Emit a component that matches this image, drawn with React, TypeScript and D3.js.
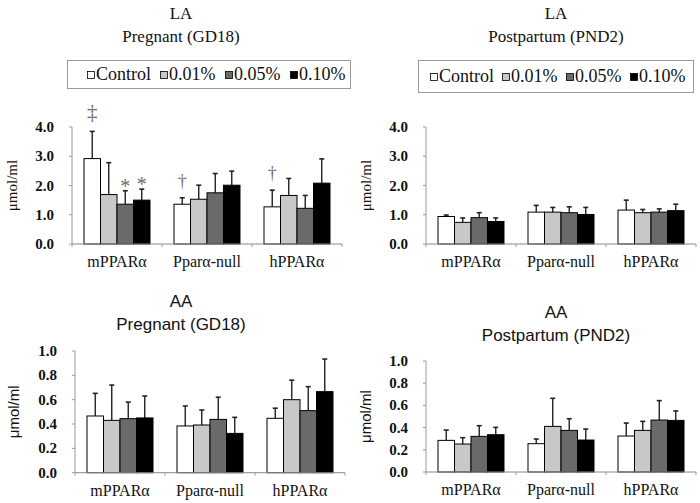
import React from "react";
import * as d3 from "d3";

// ---------- data ----------
const categories = ["mPPARα", "Pparα-null", "hPPARα"];
const groups = ["Control", "0.01%", "0.05%", "0.10%"];
const yTicksLA = [0, 1, 2, 3, 4];
const yTicksAA = [0, 0.2, 0.4, 0.6, 0.8, 1.0];

// LA, Pregnant (GD18): mean per category x group
const laPregnantMean = [
  [2.92, 1.69, 1.36, 1.5],
  [1.36, 1.53, 1.75, 2.01],
  [1.27, 1.66, 1.22, 2.08],
];
const laPregnantSD = [
  [0.93, 1.09, 0.46, 0.375],
  [0.22, 0.48, 0.66, 0.48],
  [0.57, 0.58, 0.44, 0.83],
];
// LA, Postpartum (PND2)
const laPostpartumMean = [
  [0.94, 0.74, 0.9, 0.77],
  [1.09, 1.09, 1.07, 1.01],
  [1.16, 1.07, 1.09, 1.14],
];
const laPostpartumSD = [
  [0.05, 0.15, 0.17, 0.12],
  [0.23, 0.16, 0.2, 0.24],
  [0.34, 0.11, 0.11, 0.22],
];
// AA, Pregnant (GD18)
const aaPregnantMean = [
  [0.466, 0.43, 0.444, 0.45],
  [0.384, 0.392, 0.438, 0.323],
  [0.447, 0.6, 0.51, 0.666],
];
const aaPregnantSD = [
  [0.186, 0.29, 0.136, 0.18],
  [0.164, 0.123, 0.182, 0.132],
  [0.083, 0.16, 0.197, 0.268],
];
// AA, Postpartum (PND2)
const aaPostpartumMean = [
  [0.285, 0.252, 0.321, 0.336],
  [0.255, 0.411, 0.375, 0.288],
  [0.324, 0.375, 0.468, 0.465],
];
const aaPostpartumSD = [
  [0.093, 0.057, 0.096, 0.066],
  [0.042, 0.253, 0.105, 0.099],
  [0.117, 0.081, 0.175, 0.085],
];
// significance marks (category index, group index, symbol)
const laPregnantMarks = [
  { cat: 0, grp: 0, sym: "‡" },
  { cat: 0, grp: 2, sym: "*" },
  { cat: 0, grp: 3, sym: "*" },
  { cat: 1, grp: 0, sym: "†" },
  { cat: 2, grp: 0, sym: "†" },
];

// ---------- styles / layout ----------
const fills = ["#ffffff", "#c8c8c8", "#6a6a6a", "#000000"];
const SERIF = '"Liberation Serif", "Times New Roman", "DejaVu Serif", serif';
const SANS = '"Liberation Sans", Arial, "DejaVu Sans", sans-serif';

const panels = [
  {
    measure: "LA", stage: "Pregnant (GD18)", titleFont: SERIF, labelFont: SERIF,
    means: laPregnantMean, sds: laPregnantSD, ticks: yTicksLA, marks: laPregnantMarks,
    x: 72, x2: 342, yBase: 244, yTop: 127, tx: 181, ty: 19,
    legend: { x: 67, y: 60, w: 283, h: 28, offs: [20, 93, 158, 223] }, ylx: 12,
  },
  {
    measure: "LA", stage: "Postpartum (PND2)", titleFont: SERIF, labelFont: SERIF,
    means: laPostpartumMean, sds: laPostpartumSD, ticks: yTicksLA, marks: [],
    x: 426, x2: 696, yBase: 244, yTop: 127, tx: 556, ty: 19,
    legend: { x: 418, y: 60, w: 275, h: 32, offs: [12, 84, 148, 212] }, ylx: 366,
  },
  {
    measure: "AA", stage: "Pregnant (GD18)", titleFont: SANS, labelFont: SANS,
    means: aaPregnantMean, sds: aaPregnantSD, ticks: yTicksAA, marks: [],
    x: 75, x2: 345, yBase: 472.7, yTop: 351, tx: 181, ty: 307,
    legend: null, ylx: 14,
  },
  {
    measure: "AA", stage: "Postpartum (PND2)", titleFont: SANS, labelFont: SANS,
    means: aaPostpartumMean, sds: aaPostpartumSD, ticks: yTicksAA, marks: [],
    x: 426, x2: 696, yBase: 472, yTop: 361, tx: 556, ty: 318,
    legend: null, ylx: 366,
  },
];

const fmt = d3.format(".1f");

function Legend({ box }: any) {
  const cy = box.y + box.h / 2;
  return (
    <g>
      <rect x={box.x + 0.5} y={box.y + 0.5} width={box.w} height={box.h}
        fill="#fff" stroke="#9a9a9a" strokeWidth={1} />
      {groups.map((g, i) => (
        <g key={g}>
          <rect x={box.x + box.offs[i] + 0.5} y={cy - 2.5} width={7} height={7}
            fill={fills[i]} stroke="#000" strokeWidth={0.8} />
          <text x={box.x + box.offs[i] + 9} y={cy + 6} style={{ fontFamily: SERIF }} fontSize={18} fill="#111">
            {g}
          </text>
        </g>
      ))}
    </g>
  );
}

function Panel({ p }: any) {
  const x0 = d3.scaleBand<string>().domain(categories).range([p.x, p.x2]);
  const bw = x0.bandwidth();
  const x1 = d3.scaleBand<string>().domain(groups).range([bw * 0.1333, bw * 0.8667]);
  const max = p.ticks[p.ticks.length - 1];
  const y = d3.scaleLinear().domain([0, max]).range([p.yBase, p.yTop]);
  const boundaries = [p.x, ...categories.map((c) => (x0(c) as number) + bw)];
  const cap = 2.5;

  return (
    <g>
      <text x={p.tx} y={p.ty} textAnchor="middle" style={{ fontFamily: p.titleFont }} fontSize={17} fill="#111">
        {p.measure}
      </text>
      <text x={p.tx} y={p.ty + 22.5} textAnchor="middle" style={{ fontFamily: p.titleFont }} fontSize={17} fill="#111">
        {p.stage}
      </text>
      {p.legend && <Legend box={p.legend} />}

      {/* y axis */}
      <line x1={p.x} x2={p.x} y1={y(0)} y2={y(max)} stroke="#9a9a9a" strokeWidth={1} />
      {p.ticks.map((t: number) => (
        <g key={t}>
          <line x1={p.x - 3} x2={p.x} y1={y(t)} y2={y(t)} stroke="#9a9a9a" strokeWidth={1} />
          <text x={p.x - 18} y={y(t) + 5} textAnchor="end" style={{ fontFamily: SERIF }} fontWeight="bold"
            fontSize={15} fill="#111">
            {fmt(t)}
          </text>
        </g>
      ))}
      <text transform={`translate(${p.ylx},${(y(0) + y(max)) / 2}) rotate(-90)`} textAnchor="middle"
        dy="0.35em" style={{ fontFamily: p.labelFont }} fontSize={15} fill="#111">
        μmol/ml
      </text>

      {/* bars */}
      {categories.map((c, ci) =>
        groups.map((g, gi) => {
          const v = p.means[ci][gi];
          const sd = p.sds[ci][gi];
          const bx = (x0(c) as number) + (x1(g) as number);
          const w = x1.bandwidth();
          const cx = bx + w / 2;
          return (
            <g key={c + g}>
              <line x1={cx} x2={cx} y1={y(v)} y2={y(v + sd)} stroke="#222" strokeWidth={1.4} />
              <line x1={cx - cap} x2={cx + cap} y1={y(v + sd)} y2={y(v + sd)} stroke="#222" strokeWidth={1.6} />
              <rect x={bx} y={y(v)} width={w} height={y(0) - y(v)} fill={fills[gi]}
                stroke="#000" strokeWidth={1} />
            </g>
          );
        })
      )}

      {/* x axis */}
      <line x1={p.x} x2={p.x2} y1={y(0)} y2={y(0)} stroke="#8a8a8a" strokeWidth={1} />
      {boundaries.map((b, i) => (
        <line key={i} x1={b} x2={b} y1={y(0)} y2={y(0) + 3} stroke="#9a9a9a" strokeWidth={1} />
      ))}
      {categories.map((c) => (
        <text key={c} x={(x0(c) as number) + bw / 2} y={y(0) + 23} textAnchor="middle"
          style={{ fontFamily: SERIF }} fontSize={16} fill="#111">
          {c}
        </text>
      ))}

      {/* significance marks */}
      {p.marks.map((m: any, i: number) => {
        const c = categories[m.cat];
        const g = groups[m.grp];
        const cx = (x0(c) as number) + (x1(g) as number) + x1.bandwidth() / 2;
        const top = y(p.means[m.cat][m.grp] + p.sds[m.cat][m.grp]);
        const isStar = m.sym === "*";
        const isDouble = m.sym === "‡";
        return (
          <text key={i} x={cx} y={isStar ? top + 2 : top - (isDouble ? 12 : 11)} textAnchor="middle"
            style={{ fontFamily: SERIF }} fontSize={isStar ? 20 : isDouble ? 21 : 18} fill="#6e6e6e">
            {m.sym}
          </text>
        );
      })}
    </g>
  );
}

export default function App() {
  return (
    <svg width={700} height={503} style={{ position: "absolute", left: 0, top: 0, background: "#fff" }}>
      <rect width={700} height={503} fill="#fff" />
      {panels.map((p, i) => (
        <Panel key={i} p={p} />
      ))}
    </svg>
  );
}
